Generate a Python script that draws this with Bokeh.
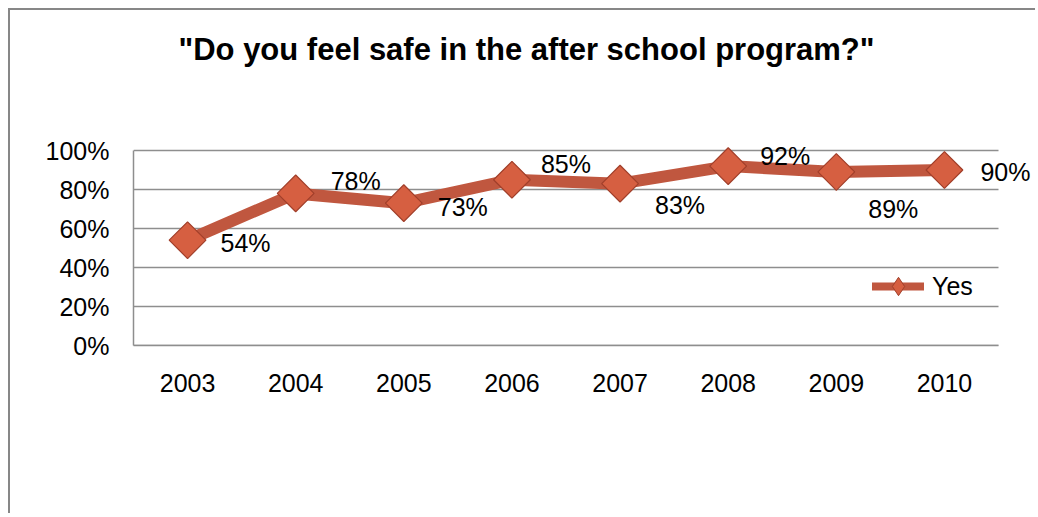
import math
from bokeh.plotting import figure
from bokeh.models import (ColumnDataSource, Range1d, NumeralTickFormatter,
                          LabelSet, Label, Legend, LegendItem, FixedTicker)
from bokeh.core.properties import value
from bokeh.embed import file_html
from bokeh.resources import INLINE

# ---- data ----
years = ["2003", "2004", "2005", "2006", "2007", "2008", "2009", "2010"]
yes_values = [0.54, 0.78, 0.73, 0.85, 0.83, 0.92, 0.89, 0.90]
yes_labels = ["54%", "78%", "73%", "85%", "83%", "92%", "89%", "90%"]
y_ticks = [0, 0.2, 0.4, 0.6, 0.8, 1.0]
title_text = '"Do you feel safe in the after school program?"'
series_name = "Yes"

# label placement (screen offsets, styling only)
label_dx = [58, 60, 59, 54, 60, 57, 57, 61]
label_dy = [-3, 12, -4, 16, -21, 10, -37, -2]

FONT = "Liberation Sans"
LINE_COLOR = "#c0573f"
MARK_FILL = "#d65f41"
MARK_LINE = "#a13f2a"
GRID = "#8e8e8e"

# layout constants (pixels, canvas coordinates)
W, H = 1027, 505
FRAME_L, FRAME_B = 123, 335       # left edge / bottom of the plotting frame
PLOT_TOP = 140                    # where the 100% line sits
CAT_PX = 108.125                  # width of one category slot

n = len(years)
xs = list(range(n))
x_end = -0.5 + (W - FRAME_L) / CAT_PX
y_max = max(y_ticks)
y_end = y_max * FRAME_B / (FRAME_B - PLOT_TOP)

src = ColumnDataSource(dict(x=xs, y=yes_values, lab=yes_labels, dx=label_dx, dy=label_dy))

p = figure(width=W, height=H, x_range=Range1d(-0.5, x_end), y_range=Range1d(0, y_end),
           output_backend="svg", toolbar_location=None,
           min_border_left=FRAME_L, min_border_right=0, min_border_top=0,
           min_border_bottom=H - FRAME_B)
p.styles = {"margin-left": "8px", "margin-top": "8px",
            "border-left": "2px solid #878787", "border-top": "2px solid #878787"}
p.outline_line_color = None
p.background_fill_color = "white"
p.border_fill_color = "white"

p.xgrid.grid_line_color = None
p.ygrid.grid_line_color = None

# horizontal gridlines, limited to the category span
p.segment(x0=[-0.5] * len(y_ticks), x1=[n - 0.5] * len(y_ticks), y0=y_ticks, y1=y_ticks,
          line_color=GRID, line_width=1.5)

p.xaxis.ticker = FixedTicker(ticks=xs)
p.xaxis.major_label_overrides = {i: y for i, y in zip(xs, years)}
p.xaxis.bounds = (-0.5, n - 0.5)
p.yaxis.ticker = FixedTicker(ticks=y_ticks)
p.yaxis.bounds = (0, y_max)
p.yaxis.formatter = NumeralTickFormatter(format="0%")

for ax in (p.xaxis, p.yaxis):
    ax.axis_line_color = GRID
    ax.axis_line_width = 1.5
    ax.major_tick_line_color = None
    ax.minor_tick_line_color = None
    ax.major_tick_out = 0
    ax.major_tick_in = 0
    ax.major_label_text_font = FONT
    ax.major_label_text_font_size = "25px"
    ax.major_label_text_color = "black"
p.yaxis.major_label_standoff = 24
p.xaxis.major_label_standoff = 28

ln = p.line("x", "y", source=src, line_color=LINE_COLOR, line_width=12,
            line_cap="round", line_join="round")
sc = p.scatter("x", "y", source=src, marker="square", size=26, angle=math.pi / 4,
               fill_color=MARK_FILL, line_color=MARK_LINE, line_width=1.2)

labels = LabelSet(x="x", y="y", text="lab", source=src, x_offset="dx", y_offset="dy",
                  text_align="center", text_baseline="middle",
                  text_font=value(FONT), text_font_size="25px", text_color="black")
p.add_layout(labels)

# chart title (screen units relative to the frame's bottom-left corner)
title = Label(x=393, y=296, x_units="screen", y_units="screen", text=title_text,
              text_align="center", text_baseline="alphabetic", text_font=FONT,
              text_font_size="31px", text_font_style="bold", text_color="black")
p.add_layout(title)

# legend-only renderers (a single NaN point, so nothing is drawn in the plot)
nan_src = ColumnDataSource(dict(x=[float("nan")], y=[float("nan")]))
lg_line = p.line("x", "y", source=nan_src, line_color=LINE_COLOR, line_width=8, line_cap="round")
lg_mark = p.scatter("x", "y", source=nan_src, marker="diamond", size=10,
                    fill_color=MARK_FILL, line_color=MARK_LINE, line_width=1)

legend = Legend(items=[LegendItem(label=series_name, renderers=[lg_line, lg_mark])],
                location=(739, 36), orientation="vertical",
                glyph_width=52, glyph_height=46, label_standoff=8,
                padding=0, margin=0, border_line_color=None, background_fill_alpha=0,
                label_text_font=FONT, label_text_font_size="25px", label_text_color="black")
p.add_layout(legend)

open("out.html", "w").write(file_html(p, INLINE))
